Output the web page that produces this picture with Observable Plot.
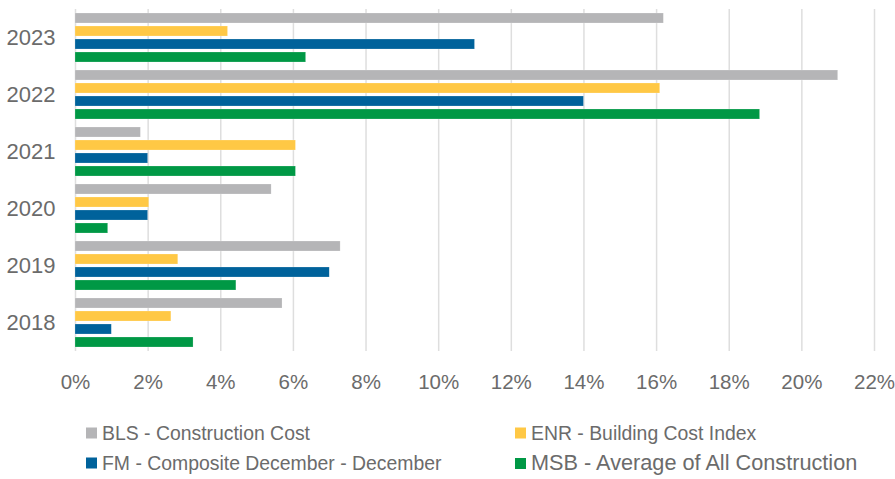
<!DOCTYPE html>
<html>
<head>
<meta charset="utf-8">
<script src="https://cdn.jsdelivr.net/npm/d3@7"></script>
<script src="https://cdn.jsdelivr.net/npm/@observablehq/plot@0.6"></script>
<style>
  body { margin: 0; background: #fff; }
  #wrap { position: relative; width: 895px; height: 479px; font-family: "Liberation Sans", Arial, sans-serif; color: #6b6b6b; }
  .leg { position: absolute; display: flex; align-items: center; font-size: 19.4px; white-space: nowrap; transform: translateY(-50%); }
  .sw { width: 11px; height: 11px; margin-right: 5px; display: inline-block; }
</style>
</head>
<body>
<div id="wrap"></div>
<script>
const years = ["2023", "2022", "2021", "2020", "2019", "2018"];
const series = [
  "BLS - Construction Cost",
  "ENR - Building Cost Index",
  "FM - Composite December - December",
  "MSB - Average of All Construction"
];
const colors = ["#b5b5b7", "#ffc845", "#00629b", "#009845"];
// values in percent, per year (2023..2018)
const bls = [16.2, 21.0, 1.8, 5.4, 7.3, 5.7];
const enr = [4.2, 16.1, 6.07, 2.03, 2.83, 2.64];
const fm  = [11.0, 14.0, 2.0, 2.0, 7.0, 1.0];
const msb = [6.35, 18.85, 6.07, 0.9, 4.43, 3.25];
const xTicks = [0, 2, 4, 6, 8, 10, 12, 14, 16, 18, 20, 22];

const seriesValues = [bls, enr, fm, msb];
const data = [];
years.forEach((yr, i) => {
  series.forEach((s, j) => data.push({year: yr, series: s, value: seriesValues[j][i]}));
});

const chart = Plot.plot({
  width: 895,
  height: 405,
  marginLeft: 75,
  marginRight: 21,
  marginTop: 8,
  marginBottom: 53,
  style: {fontFamily: '"Liberation Sans", Arial, sans-serif', fontSize: "22px", color: "#6b6b6b", background: "#fff"},
  x: {domain: [0, 22], ticks: xTicks, tickFormat: d => d + "%", tickSize: 0, tickPadding: 23, label: null, axis: "bottom"},
  y: {domain: series, axis: null, paddingInner: 0.23, paddingOuter: 0.3},
  fy: {domain: years, padding: 0, label: null, tickSize: 0, tickPadding: 20, axis: "left"},
  color: {domain: series, range: colors},
  marks: [
    Plot.ruleX(xTicks, {stroke: "#dedede", strokeWidth: 1.5}),
    Plot.barX(data, {x: "value", y: "series", fy: "year", fill: "series", stroke: "#ffffff", strokeOpacity: 0.4, strokeWidth: 0.5})
  ]
});

// slightly smaller x tick labels so "22%" stays inside the window
chart.querySelectorAll("g[aria-label='x-axis'] text, g[aria-label='x-axis tick label'] text").forEach(t => t.style.fontSize = "20.5px");

const wrap = document.getElementById("wrap");
wrap.appendChild(chart);

const legendPos = [
  {left: 86, top: 433, size: 19.4},
  {left: 515, top: 433, size: 19.4},
  {left: 86, top: 463, size: 19.4},
  {left: 515, top: 463, size: 21.7}
];
series.forEach((s, i) => {
  const d = document.createElement("div");
  d.className = "leg";
  d.style.left = legendPos[i].left + "px";
  d.style.top = legendPos[i].top + "px";
  d.style.fontSize = legendPos[i].size + "px";
  const sw = document.createElement("span");
  sw.className = "sw";
  sw.style.background = colors[i];
  d.appendChild(sw);
  d.appendChild(document.createTextNode(s));
  wrap.appendChild(d);
});
</script>
</body>
</html>
